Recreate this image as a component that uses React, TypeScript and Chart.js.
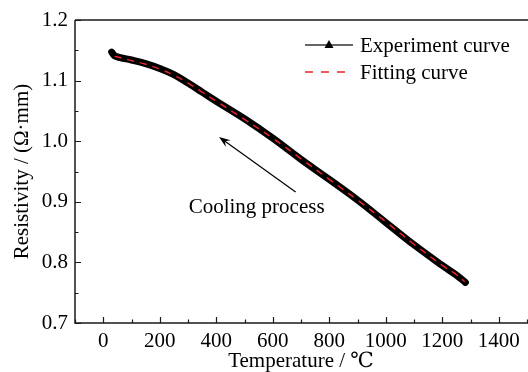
import React, { useEffect, useRef } from "react";
import { Chart, registerables } from "chart.js";

Chart.register(...registerables);

const expTemps = [30, 40, 60, 100, 150, 200, 250, 300, 350, 400, 500, 600, 700, 800, 900, 1000, 1100, 1200, 1250, 1282];
const expRes = [1.147, 1.141, 1.138, 1.134, 1.128, 1.120, 1.110, 1.096, 1.081, 1.066, 1.037, 1.005, 0.970, 0.937, 0.903, 0.866, 0.829, 0.795, 0.779, 0.767];
const fitTemps = [40, 60, 100, 150, 200, 250, 300, 350, 400, 500, 600, 700, 800, 900, 1000, 1100, 1200, 1250, 1280];
const fitRes = [1.140, 1.138, 1.133, 1.127, 1.119, 1.109, 1.096, 1.081, 1.066, 1.036, 1.005, 0.971, 0.937, 0.903, 0.867, 0.830, 0.795, 0.780, 0.768];
const xTicks = [0, 200, 400, 600, 800, 1000, 1200, 1400];
const xMinor = [-100, 100, 300, 500, 700, 900, 1100, 1300, 1500];
const yTicks = [0.7, 0.8, 0.9, 1.0, 1.1, 1.2];
const yMinor = [0.75, 0.85, 0.95, 1.05, 1.15];
const legendLabels = ["Experiment curve", "Fitting curve"];
const noteText = "Cooling process";
const arrowFrom = { x: 681, y: 0.916 };
const arrowTo = { x: 410, y: 1.007 };
const notePos = { x: 543, y: 0.89 };

const FONT = '"Liberation Serif", "DejaVu Serif", "Times New Roman", serif';
const FS = 21;

export default function App() {
  const ref = useRef<HTMLCanvasElement>(null);
  useEffect(() => {
    const canvas = ref.current;
    if (!canvas) return;
    const framePlugin = {
      id: "frame",
      afterDraw(chart: any) {
        const { ctx, chartArea: a, scales } = chart;
        const xs = scales.x;
        const ys = scales.y;
        ctx.save();
        ctx.strokeStyle = "#1a1a1a";
        ctx.lineWidth = 1.5;
        ctx.beginPath();
        ctx.moveTo(a.left, a.top);
        ctx.lineTo(a.left, a.bottom);
        ctx.lineTo(a.right + 2, a.bottom);
        ctx.moveTo(a.left, a.top);
        ctx.lineTo(a.right + 2, a.top);
        ctx.stroke();
        ctx.lineWidth = 1.2;
        ctx.beginPath();
        xTicks.forEach((v) => {
          const px = Math.round(xs.getPixelForValue(v)) + 0.5;
          ctx.moveTo(px, a.bottom);
          ctx.lineTo(px, a.bottom - 6);
        });
        xMinor.forEach((v) => {
          const px = Math.round(xs.getPixelForValue(v)) + 0.5;
          ctx.moveTo(px, a.bottom);
          ctx.lineTo(px, a.bottom - 3.5);
        });
        yTicks.forEach((v) => {
          const py = Math.round(ys.getPixelForValue(v)) + 0.5;
          ctx.moveTo(a.left, py);
          ctx.lineTo(a.left + 6, py);
        });
        yMinor.forEach((v) => {
          const py = Math.round(ys.getPixelForValue(v)) + 0.5;
          ctx.moveTo(a.left, py);
          ctx.lineTo(a.left + 3.5, py);
        });
        ctx.stroke();

        // legend
        const lx = a.left + 230;
        const ly1 = a.top + 25;
        const ly2 = a.top + 52;
        ctx.strokeStyle = "#333";
        ctx.lineWidth = 1.5;
        ctx.beginPath();
        ctx.moveTo(lx, ly1);
        ctx.lineTo(lx + 48, ly1);
        ctx.stroke();
        ctx.fillStyle = "#000";
        ctx.beginPath();
        ctx.moveTo(lx + 24, ly1 - 5);
        ctx.lineTo(lx + 28.5, ly1 + 3);
        ctx.lineTo(lx + 19.5, ly1 + 3);
        ctx.closePath();
        ctx.fill();
        ctx.strokeStyle = "#e8232a";
        ctx.setLineDash([8, 8]);
        ctx.beginPath();
        ctx.moveTo(lx, ly2);
        ctx.lineTo(lx + 48, ly2);
        ctx.stroke();
        ctx.setLineDash([]);
        ctx.fillStyle = "#000";
        ctx.font = `${FS}px ${FONT}`;
        ctx.textAlign = "left";
        ctx.textBaseline = "middle";
        ctx.fillText(legendLabels[0], lx + 55, ly1 + 1);
        ctx.fillText(legendLabels[1], lx + 55, ly2 + 1);

        // annotation arrow
        const x0 = xs.getPixelForValue(arrowFrom.x);
        const y0 = ys.getPixelForValue(arrowFrom.y);
        const x1 = xs.getPixelForValue(arrowTo.x);
        const y1 = ys.getPixelForValue(arrowTo.y);
        const ang = Math.atan2(y1 - y0, x1 - x0);
        ctx.strokeStyle = "#000";
        ctx.lineWidth = 1.2;
        ctx.beginPath();
        ctx.moveTo(x0, y0);
        ctx.lineTo(x1 - 6 * Math.cos(ang), y1 - 6 * Math.sin(ang));
        ctx.stroke();
        const hl = 12;
        const hw = 0.35;
        ctx.beginPath();
        ctx.moveTo(x1, y1);
        ctx.lineTo(x1 - hl * Math.cos(ang - hw), y1 - hl * Math.sin(ang - hw));
        ctx.lineTo(x1 - 0.6 * hl * Math.cos(ang), y1 - 0.6 * hl * Math.sin(ang));
        ctx.lineTo(x1 - hl * Math.cos(ang + hw), y1 - hl * Math.sin(ang + hw));
        ctx.closePath();
        ctx.fill();
        ctx.textAlign = "center";
        ctx.fillText(noteText, xs.getPixelForValue(notePos.x), ys.getPixelForValue(notePos.y));
        ctx.restore();
      },
    };

    const chart = new Chart(canvas, {
      type: "line",
      data: {
        datasets: [
          {
            label: legendLabels[1],
            data: fitTemps.map((t, i) => ({ x: t, y: fitRes[i] })),
            borderColor: "#e8232a",
            borderWidth: 1.5,
            borderDash: [7, 6],
            pointRadius: 0,
            tension: 0.4,
            order: 1,
          },
          {
            label: legendLabels[0],
            data: expTemps.map((t, i) => ({ x: t, y: expRes[i] })),
            borderColor: "#000",
            backgroundColor: "#000",
            borderWidth: 7,
            pointRadius: 0,
            tension: 0.4,
            borderCapStyle: "round",
            order: 2,
          },
        ],
      },
      options: {
        responsive: false,
        animation: false,
        layout: { padding: { top: 20, right: 1, left: 0, bottom: 0 } },
        plugins: { legend: { display: false }, tooltip: { enabled: false } },
        scales: {
          x: {
            type: "linear",
            min: -100,
            max: 1500,
            afterBuildTicks: (s: any) => {
              s.ticks = xTicks.map((v) => ({ value: v }));
            },
            afterFit: (s: any) => {
              s.height = 49;
            },
            grid: { display: false, drawTicks: false },
            border: { display: false },
            ticks: {
              color: "#000",
              font: { family: FONT, size: FS },
              padding: 6,
              maxRotation: 0,
              autoSkip: false,
              callback: (v: any) => String(v),
            },
            title: {
              display: true,
              text: "Temperature / ℃",
              color: "#000",
              font: { family: FONT, size: FS, lineHeight: 1.0 },
              padding: { top: 0, bottom: 0 },
            },
          },
          y: {
            type: "linear",
            min: 0.7,
            max: 1.2,
            afterBuildTicks: (s: any) => {
              s.ticks = yTicks.map((v) => ({ value: v }));
            },
            afterFit: (s: any) => {
              s.width = 75;
            },
            grid: { display: false, drawTicks: false },
            border: { display: false },
            ticks: {
              color: "#000",
              font: { family: FONT, size: FS },
              padding: 7,
              callback: (v: any) => Number(v).toFixed(1),
            },
            title: {
              display: true,
              text: "Resistivity / (Ω·mm)",
              color: "#000",
              font: { family: FONT, size: FS },
              padding: { top: 10, bottom: 0 },
            },
          },
        },
      },
      plugins: [framePlugin],
    } as any);
    return () => chart.destroy();
  }, []);

  return (
    <div style={{ position: "fixed", left: 0, top: 0, width: 528, height: 372, background: "#fff" }}>
      <canvas ref={ref} width={528} height={372} style={{ display: "block" }} />
    </div>
  );
}
